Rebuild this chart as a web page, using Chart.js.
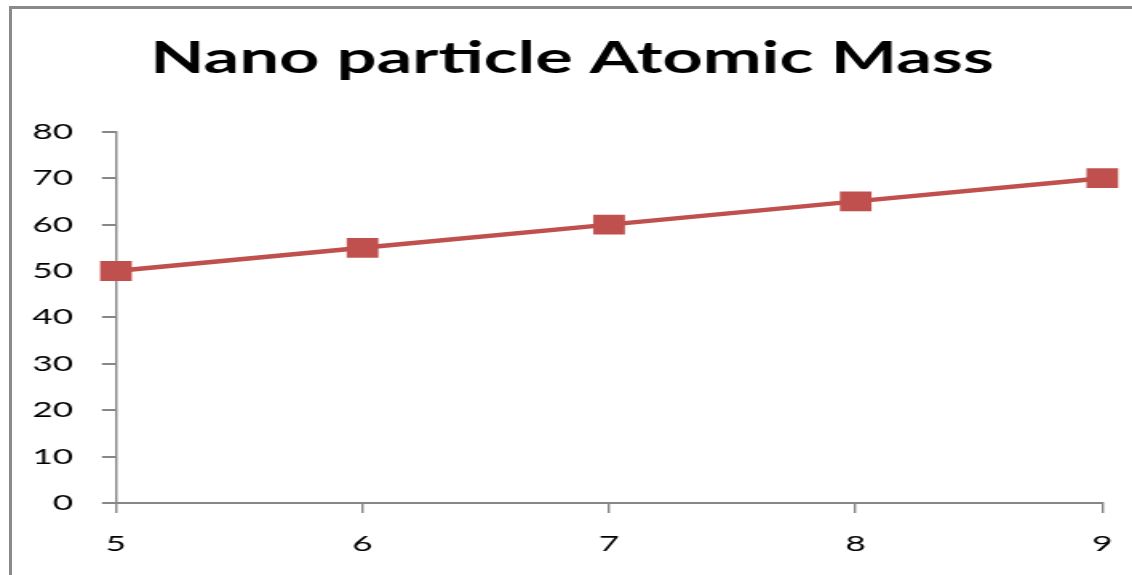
<!DOCTYPE html>
<html>
<head>
<meta charset="utf-8">
<script src="https://cdn.jsdelivr.net/npm/chart.js@4.4.0/dist/chart.umd.min.js"></script>
<style>
  body { margin: 0; background: #fff; overflow: hidden; }
  .frame { position: absolute; left: 9px; top: 6px; width: 1200px; height: 700px;
           border-top: 3px solid #8a8a8a; border-left: 3px solid #8a8a8a; }
  #chart { position: absolute; left: 0; top: 0; }
</style>
</head>
<body>
<div class="frame"></div>
<canvas id="chart" width="708" height="575" style="width:1132px;height:575px"></canvas>
<script>
// source picture is stretched sideways, so draw narrow and widen with css
const sizes = [5, 6, 7, 8, 9]
const atomicMass = [50, 55, 60, 65, 70]
const yTicks = [0, 10, 20, 30, 40, 50, 60, 70, 80]

const axisGray = "#868686"

const ctx = document.getElementById("chart").getContext("2d")
new Chart(ctx, {
    type: "line",
    data: {
        labels: sizes,
        datasets: [{
            label: "Atomic Mass",
            data: atomicMass,
            borderColor: "#C0504D",
            backgroundColor: "#C0504D",
            borderWidth: 4.5,
            pointStyle: "rect",
            pointRadius: 14,
            pointBorderWidth: 0,
            tension: 0
        }]
    },
    options: {
        responsive: false,
        animation: false,
        devicePixelRatio: 1,
        layout: { padding: { left: 19, right: 11.5, top: 0, bottom: 0 } },
        plugins: {
            legend: { display: false },
            tooltip: { enabled: false },
            title: {
                display: true,
                text: "Nano particle Atomic Mass",
                color: "#000",
                font: { family: "Lato", size: 44, weight: "bold" },
                padding: { top: 32, bottom: 47 }
            }
        },
        scales: {
            x: {
                type: "category",
                offset: false,
                grid: { display: true, drawOnChartArea: false, color: axisGray, lineWidth: 1.4, tickLength: 10 },
                border: { display: true, color: axisGray, width: 2 },
                ticks: { color: "#000", font: { family: "Lato", size: 22 }, padding: 18, maxRotation: 0 },
                afterFit: (scale) => {
                    scale.height = 72
                    scale.paddingLeft = 0
                    scale.paddingRight = 18.6
                }
            },
            y: {
                min: 0,
                max: 80,
                afterBuildTicks: (scale) => { scale.ticks = yTicks.map(v => ({ value: v })) },
                grid: { display: true, drawOnChartArea: false, color: axisGray, lineWidth: 2, tickLength: 8.75 },
                border: { display: true, color: axisGray, width: 1.4 },
                ticks: { color: "#000", font: { family: "Lato", size: 22 }, padding: 18 },
                afterFit: (scale) => { scale.width = 53.5 }
            }
        }
    }
})
</script>
</body>
</html>
